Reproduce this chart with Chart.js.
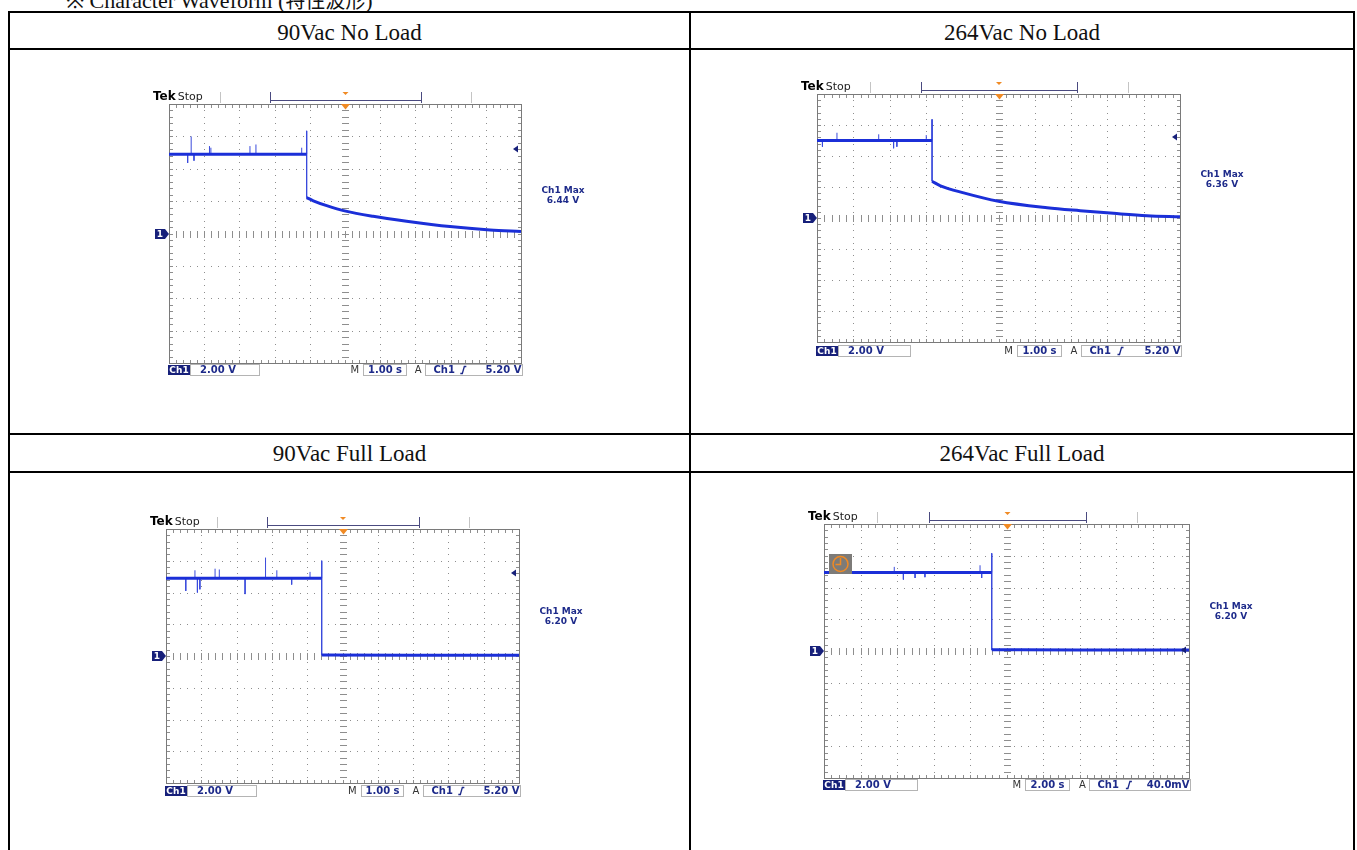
<!DOCTYPE html>
<html>
<head>
<meta charset="utf-8">
<script src="https://cdn.jsdelivr.net/npm/chart.js@4.4.0/dist/chart.umd.min.js"></script>
<style>
body { margin: 0; background: #fff; width: 1357px; height: 850px; overflow: hidden; position: relative; font-family: "Liberation Serif", serif; }
.rule { position: absolute; background: #000; }
.head { position: absolute; font-size: 23px; line-height: 23px; text-align: center; color: #111; }
.caption { position: absolute; left: 66px; top: -11px; font-size: 22px; line-height: 22px; color: #111; white-space: nowrap; }
.caption span { font-family: "Noto Sans CJK TC", sans-serif; font-size: 20px; }
.scope { position: absolute; }
</style>
</head>
<body>
<div class="caption">※ Character Waveform (<span>特性波形</span>)</div>

<div class="rule" style="left:8px;top:11px;width:1347px;height:2px"></div>
<div class="rule" style="left:8px;top:48px;width:1347px;height:2px"></div>
<div class="rule" style="left:8px;top:433px;width:1347px;height:2px"></div>
<div class="rule" style="left:8px;top:471px;width:1347px;height:2px"></div>
<div class="rule" style="left:8px;top:11px;width:2px;height:900px"></div>
<div class="rule" style="left:689px;top:11px;width:2px;height:900px"></div>
<div class="rule" style="left:1353px;top:11px;width:2px;height:900px"></div>

<div class="head" id="t0" style="left:10px;width:679px;top:21px"></div>
<div class="head" id="t1" style="left:691px;width:662px;top:21px"></div>
<div class="head" id="t2" style="left:10px;width:679px;top:442px"></div>
<div class="head" id="t3" style="left:691px;width:662px;top:442px"></div>

<div class="scope" id="box0"><canvas id="scope0"></canvas></div>
<div class="scope" id="box1"><canvas id="scope1"></canvas></div>
<div class="scope" id="box2"><canvas id="scope2"></canvas></div>
<div class="scope" id="box3"><canvas id="scope3"></canvas></div>

<script>
// panel labels and scope read-outs
const panelTitles = ['90Vac No Load', '264Vac No Load', '90Vac Full Load', '264Vac Full Load'];
const voltsPerDiv = ['2.00 V', '2.00 V', '2.00 V', '2.00 V'];
const timePerDiv = ['1.00 s', '1.00 s', '1.00 s', '2.00 s'];
const trigLabels = ['5.20 V', '5.20 V', '5.20 V', '40.0mV'];
const trigVolts = [5.2, 5.2, 5.2, 0.04];
const maxLabels = ['6.44 V', '6.36 V', '6.20 V', '6.20 V'];

// 90Vac No Load (time in s, volts)
const nl90Level = 4.9;
const nl90DropTime = -1.09;
const nl90AfterTime = [-1.09, -0.90, -0.52, 0.02, 0.80, 1.75, 2.98, 4.12, 5.00];
const nl90AfterVolts = [2.22, 2.02, 1.72, 1.38, 1.06, 0.76, 0.43, 0.22, 0.12];
const nl90SpikeTime = [-4.47, -4.37, -4.29, -3.85, -3.81, -2.70, -2.53, -1.23, -1.09];
const nl90SpikeVolts = [4.36, 6.00, 4.50, 5.40, 5.30, 5.40, 5.50, 5.30, 6.34];

// 264Vac No Load
const nl264Level = 5.0;
const nl264DropTime = -1.83;
const nl264AfterTime = [-1.83, -1.60, -0.96, 0.00, 1.34, 2.25, 3.17, 4.09, 5.00];
const nl264AfterVolts = [2.37, 2.08, 1.62, 1.08, 0.66, 0.47, 0.30, 0.15, 0.08];
const nl264SpikeTime = [-4.85, -4.45, -3.30, -2.89, -2.80, -1.99, -1.83];
const nl264SpikeVolts = [4.60, 5.50, 5.40, 4.50, 4.60, 5.35, 6.36];

// 90Vac Full Load
const fl90Level = 4.9;
const fl90DropTime = -0.59;
const fl90AfterTime = [-0.59, 2.0, 5.0];
const fl90AfterVolts = [0.06, 0.05, 0.04];
const fl90SpikeTime = [-4.44, -4.18, -4.11, -4.04, -3.61, -3.49, -2.76, -2.18, -1.86, -1.44, -0.92, -0.59];
const fl90SpikeVolts = [4.10, 5.40, 4.00, 4.20, 5.50, 5.45, 3.90, 6.20, 5.40, 4.50, 5.30, 6.00];

// 264Vac Full Load (2.00 s/div)
const fl264Level = 4.95;
const fl264DropTime = -0.81;
const fl264AfterTime = [-0.81, 4.0, 10.0];
const fl264AfterVolts = [0.08, 0.06, 0.06];
const fl264SpikeTime = [-6.15, -5.65, -5.01, -4.47, -1.45, -1.36, -0.81];
const fl264SpikeVolts = [5.30, 4.50, 4.60, 4.65, 5.40, 4.60, 6.15];

const traces = [
  { level: nl90Level, drop: nl90DropTime, afterT: nl90AfterTime, afterV: nl90AfterVolts, spikeT: nl90SpikeTime, spikeV: nl90SpikeVolts },
  { level: nl264Level, drop: nl264DropTime, afterT: nl264AfterTime, afterV: nl264AfterVolts, spikeT: nl264SpikeTime, spikeV: nl264SpikeVolts },
  { level: fl90Level, drop: fl90DropTime, afterT: fl90AfterTime, afterV: fl90AfterVolts, spikeT: fl90SpikeTime, spikeV: fl90SpikeVolts },
  { level: fl264Level, drop: fl264DropTime, afterT: fl264AfterTime, afterV: fl264AfterVolts, spikeT: fl264SpikeTime, spikeV: fl264SpikeVolts }
];

// graticule placement on the page (layout only)
const screens = [
  { L: 169, T: 104, R: 521, B: 363, xMin: -5, xMax: 5, statusDy: 7, maxDy: 87 },
  { L: 817, T: 94, R: 1180, B: 342, xMin: -5, xMax: 5, statusDy: 9, maxDy: 81 },
  { L: 166, T: 529, R: 519, B: 783, xMin: -5, xMax: 5, statusDy: 8, maxDy: 83 },
  { L: 824, T: 524, R: 1189, B: 778, xMin: -10, xMax: 10, statusDy: 7, maxDy: 83, clock: true }
];

const NAVY = '#1d2a8a';
const BOXNAVY = '#17207a';
const ORANGE = '#f08a24';

const tekScreen = {
  id: 'tekScreen',
  beforeDatasetsDraw(chart) {
    const { ctx, scales: { x, y } } = chart;
    const xd = (x.max - x.min) / 10, yd = (y.max - y.min) / 8;
    ctx.save();
    ctx.fillStyle = '#8e8e8e';
    // vertical division lines
    for (let i = 0; i <= 10; i++) {
      const gx = Math.round(x.getPixelForValue(x.min + i * xd));
      for (let j = 0; j <= 40; j++) {
        const gy = Math.round(y.getPixelForValue(y.min + j * yd / 5));
        if (i === 0) ctx.fillRect(gx, gy, 4, 1);
        else if (i === 10) ctx.fillRect(gx - 3, gy, 4, 1);
        else if (i === 5) ctx.fillRect(gx - 3, gy, 7, 1);
        else ctx.fillRect(gx, gy, 1, 1);
      }
    }
    // horizontal division lines
    for (let j = 0; j <= 8; j++) {
      const gy = Math.round(y.getPixelForValue(y.min + j * yd));
      for (let i = 0; i <= 50; i++) {
        const gx = Math.round(x.getPixelForValue(x.min + i * xd / 5));
        if (j === 0) ctx.fillRect(gx, gy - 3, 1, 4);
        else if (j === 8) ctx.fillRect(gx, gy, 1, 4);
        else if (j === 4) ctx.fillRect(gx, gy - 3, 1, 7);
        else ctx.fillRect(gx, gy, 1, 1);
      }
    }
    const a = chart.chartArea;
    ctx.strokeStyle = '#7a7a7a';
    ctx.lineWidth = 1;
    ctx.strokeRect(Math.round(a.left) + 0.5, Math.round(a.top) + 0.5, Math.round(a.width), Math.round(a.height));
    ctx.restore();
  },
  afterDatasetsDraw(chart, args, o) {
    const { ctx, chartArea: a, scales: { x, y } } = chart;
    const cx = Math.round(x.getPixelForValue((x.min + x.max) / 2)) + 0.5;
    const gy = Math.round(y.getPixelForValue(0));
    ctx.save();
    // trigger position marker
    ctx.fillStyle = ORANGE;
    ctx.beginPath();
    ctx.moveTo(cx - 4.5, a.top); ctx.lineTo(cx + 4.5, a.top); ctx.lineTo(cx, a.top + 5.5); ctx.closePath(); ctx.fill();
    // ground marker
    ctx.fillStyle = BOXNAVY;
    ctx.fillRect(a.left - 14, gy - 5, 10, 10);
    ctx.beginPath();
    ctx.moveTo(a.left - 4, gy - 5); ctx.lineTo(a.left, gy); ctx.lineTo(a.left - 4, gy + 5); ctx.closePath(); ctx.fill();
    ctx.fillStyle = '#fff';
    ctx.font = 'bold 9px "DejaVu Sans"';
    ctx.textAlign = 'center'; ctx.textBaseline = 'middle';
    ctx.fillText('1', a.left - 9, gy + 0.5);
    // trigger level arrow
    const ty = Math.round(y.getPixelForValue(o.trig));
    ctx.fillStyle = BOXNAVY;
    ctx.beginPath();
    ctx.moveTo(a.right - 8, ty); ctx.lineTo(a.right - 3, ty - 3.5); ctx.lineTo(a.right - 3, ty + 3.5); ctx.closePath(); ctx.fill();
    // clock icon
    if (o.clock) {
      const bx = a.left + 5, by = a.top + 30;
      ctx.fillStyle = '#7d7b78';
      ctx.fillRect(bx, by, 23, 20);
      ctx.strokeStyle = ORANGE; ctx.lineWidth = 1.5;
      ctx.beginPath(); ctx.arc(bx + 11.5, by + 10, 7.5, 0, Math.PI * 2); ctx.stroke();
      ctx.beginPath();
      ctx.moveTo(bx + 11.5, by + 4); ctx.lineTo(bx + 11.5, by + 10.5); ctx.lineTo(bx + 6.5, by + 10.5);
      ctx.stroke();
    }
    ctx.restore();
  },
  afterDraw(chart, args, o) {
    const { ctx, chartArea: a } = chart;
    const L = a.left, R = a.right, W = a.width, T = a.top, B = a.bottom;
    ctx.save();
    ctx.textBaseline = 'middle';
    // header: Tek Stop and record bar
    ctx.textAlign = 'left';
    ctx.fillStyle = '#000';
    ctx.font = 'bold 12px "DejaVu Sans"';
    ctx.fillText('Tek', L - 16, T - 7);
    const tw = ctx.measureText('Tek').width;
    ctx.fillStyle = '#222';
    ctx.font = '11px "DejaVu Sans"';
    ctx.fillText('Stop', L - 16 + tw + 2, T - 7);
    ctx.fillStyle = '#c4c4c4';
    ctx.fillRect(Math.round(L + 0.145 * W), T - 12, 1, 11);
    ctx.fillRect(Math.round(L + 0.858 * W), T - 12, 1, 11);
    ctx.fillStyle = '#4a4a80';
    const b0 = Math.round(L + 0.287 * W), b1 = Math.round(L + 0.717 * W);
    ctx.fillRect(b0, T - 4, b1 - b0, 1);
    ctx.fillRect(b0, T - 12, 1, 11);
    ctx.fillRect(b1, T - 12, 1, 11);
    const mc = (b0 + b1) / 2;
    ctx.fillStyle = ORANGE;
    ctx.beginPath(); ctx.moveTo(mc - 3, T - 12); ctx.lineTo(mc + 3, T - 12); ctx.lineTo(mc, T - 9); ctx.closePath(); ctx.fill();

    // status bar
    const sy = B + o.statusDy;
    ctx.fillStyle = BOXNAVY;
    ctx.fillRect(L - 1, sy - 5, 22, 10);
    ctx.fillStyle = '#fff';
    ctx.font = 'bold 9px "DejaVu Sans"';
    ctx.textAlign = 'center';
    ctx.fillText('Ch1', L + 10, sy + 0.5);
    ctx.strokeStyle = '#b4b4b4'; ctx.lineWidth = 1;
    ctx.strokeRect(L + 21.5, sy - 5.5, Math.round(0.255 * W) - 21, 11);
    ctx.fillStyle = NAVY;
    ctx.font = 'bold 10px "DejaVu Sans"';
    ctx.textAlign = 'left';
    ctx.fillText(o.vdiv, L + 31, sy + 0.5);
    ctx.fillStyle = '#333';
    ctx.font = '10px "DejaVu Sans"';
    ctx.textAlign = 'center';
    ctx.fillText('M', L + 0.528 * W, sy + 0.5);
    const m0 = Math.round(L + 0.551 * W) + 0.5, m1 = Math.round(L + 0.672 * W) + 0.5;
    ctx.strokeRect(m0, sy - 5.5, m1 - m0, 11);
    ctx.fillStyle = NAVY;
    ctx.font = 'bold 10px "DejaVu Sans"';
    ctx.fillText(o.tdiv, (m0 + m1) / 2, sy + 0.5);
    ctx.fillStyle = '#333';
    ctx.font = '10px "DejaVu Sans"';
    ctx.fillText('A', L + 0.708 * W, sy + 0.5);
    const a0 = Math.round(L + 0.727 * W) + 0.5, a1 = Math.round(R) + 1.5;
    ctx.strokeRect(a0, sy - 5.5, a1 - a0, 11);
    ctx.fillStyle = NAVY;
    ctx.font = 'bold 10px "DejaVu Sans"';
    ctx.textAlign = 'left';
    ctx.fillText('Ch1', a0 + 8, sy + 0.5);
    ctx.textAlign = 'right';
    ctx.fillText(o.tlabel, a1 - 1, sy + 0.5);
    // rising edge symbol
    const ex = a0 + (a1 - a0) * 0.39;
    ctx.strokeStyle = NAVY; ctx.lineWidth = 1.3;
    ctx.beginPath();
    ctx.moveTo(ex - 3, sy + 3.5); ctx.lineTo(ex - 1, sy + 3.5); ctx.lineTo(ex + 1, sy - 3.5); ctx.lineTo(ex + 3, sy - 3.5);
    ctx.stroke();

    // Ch1 Max readout
    ctx.fillStyle = NAVY;
    ctx.font = 'bold 9px "DejaVu Sans"';
    ctx.textAlign = 'center';
    ctx.fillText('Ch1 Max', R + 42, T + o.maxDy);
    ctx.fillText(o.max, R + 42, T + o.maxDy + 10);
    ctx.restore();
  }
};

function bandPoints(t) {
  const pts = [{ x: t.xMin, y: t.level }, { x: t.drop, y: t.level }, { x: t.drop, y: null }];
  t.afterT.forEach((v, i) => pts.push({ x: v, y: t.afterV[i] }));
  return pts;
}

function spikePoints(t) {
  const pts = [];
  t.spikeT.forEach((v, i) => {
    pts.push({ x: v, y: t.level }, { x: v, y: t.spikeV[i] }, { x: v, y: null });
  });
  const top = t.spikeV[t.spikeV.length - 1];
  pts.push({ x: t.drop, y: top }, { x: t.drop, y: t.afterV[0] });
  return pts;
}

screens.forEach((s, k) => {
  document.getElementById('t' + k).textContent = panelTitles[k];
  const box = document.getElementById('box' + k);
  box.style.left = (s.L - 20) + 'px';
  box.style.top = (s.T - 22) + 'px';
  box.style.width = (s.R - s.L + 95) + 'px';
  box.style.height = (s.B - s.T + 42) + 'px';
  const t = Object.assign({ xMin: s.xMin }, traces[k]);

  new Chart(document.getElementById('scope' + k), {
    type: 'line',
    data: {
      datasets: [
        {
          data: bandPoints(t),
          borderColor: '#1b2fd8',
          borderWidth: 3,
          pointRadius: 0,
          spanGaps: false,
          cubicInterpolationMode: 'monotone'
        },
        {
          data: spikePoints(t),
          borderColor: '#3a4bdc',
          borderWidth: 1,
          pointRadius: 0,
          spanGaps: false
        }
      ]
    },
    options: {
      responsive: true,
      maintainAspectRatio: false,
      animation: false,
      events: [],
      layout: { padding: { left: 20, top: 22, right: 75, bottom: 20 } },
      scales: {
        x: { type: 'linear', min: s.xMin, max: s.xMax, display: false },
        y: { type: 'linear', min: -8, max: 8, display: false }
      },
      plugins: {
        legend: { display: false },
        tooltip: { enabled: false },
        tekScreen: {
          trig: trigVolts[k], clock: !!s.clock, statusDy: s.statusDy, maxDy: s.maxDy,
          vdiv: voltsPerDiv[k], tdiv: timePerDiv[k], tlabel: trigLabels[k], max: maxLabels[k]
        }
      }
    },
    plugins: [tekScreen]
  });
});
</script>
</body>
</html>
